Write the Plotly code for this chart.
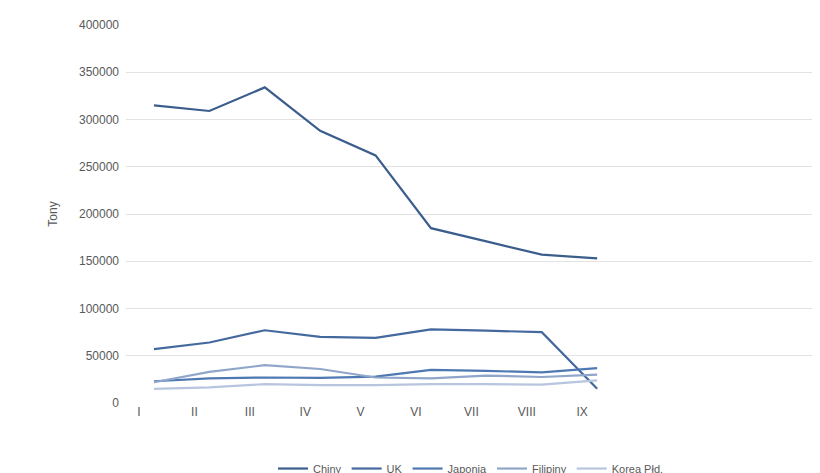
import plotly.graph_objects as go

months = ["I", "II", "III", "IV", "V", "VI", "VII", "VIII", "IX"]
series_names = ["Chiny", "UK", "Japonia", "Filipiny", "Korea Płd."]
chiny = [315000, 309000, 334000, 288000, 262000, 185000, 171000, 157000, 153000]
uk = [57000, 64000, 77000, 70000, 69000, 78000, 76500, 75000, 15000]
japonia = [23000, 26000, 27000, 26500, 28000, 35000, 34000, 32500, 37000]
filipiny = [22000, 33000, 40000, 36000, 27000, 26000, 29000, 27500, 30000]
korea = [15000, 16500, 20000, 19000, 19000, 20000, 20000, 19500, 24000]
colors = ["#3b5d8c", "#44699e", "#4e78b2", "#8fa5c9", "#b7c5df"]

fig = go.Figure()
idx = list(range(len(months)))
for name, vals, c in zip(series_names, [chiny, uk, japonia, filipiny, korea], colors):
    fig.add_trace(go.Scatter(x=[i + 0.27 for i in idx], y=vals, mode="lines", name=name,
                             line=dict(color=c, width=2.2)))

fig.update_layout(
    width=820, height=473, paper_bgcolor="white", plot_bgcolor="white",
    margin=dict(l=118, r=12, t=17, b=78, autoexpand=False),
    font=dict(family="Liberation Sans, Arial", size=12, color="#595959"),
    showlegend=True,
    legend=dict(orientation="h", x=0.5, xanchor="center", y=-0.135, yanchor="top",
                font=dict(size=11, color="#595959")),
    xaxis=dict(tickmode="array", tickvals=idx, ticktext=months, range=[-0.235, 12.22],
               showgrid=False, zeroline=False, showline=False, ticks="", automargin=False,
               tickfont=dict(color="#595959")),
    yaxis=dict(range=[0, 400000], dtick=50000, gridcolor="#e3e3e3", zeroline=False,
               showline=False, tickformat="d", automargin=False, ticklabelstandoff=6,
               title=dict(text="Tony", font=dict(size=12, color="#595959"), standoff=18)),
)
fig.write_html("out.html")
